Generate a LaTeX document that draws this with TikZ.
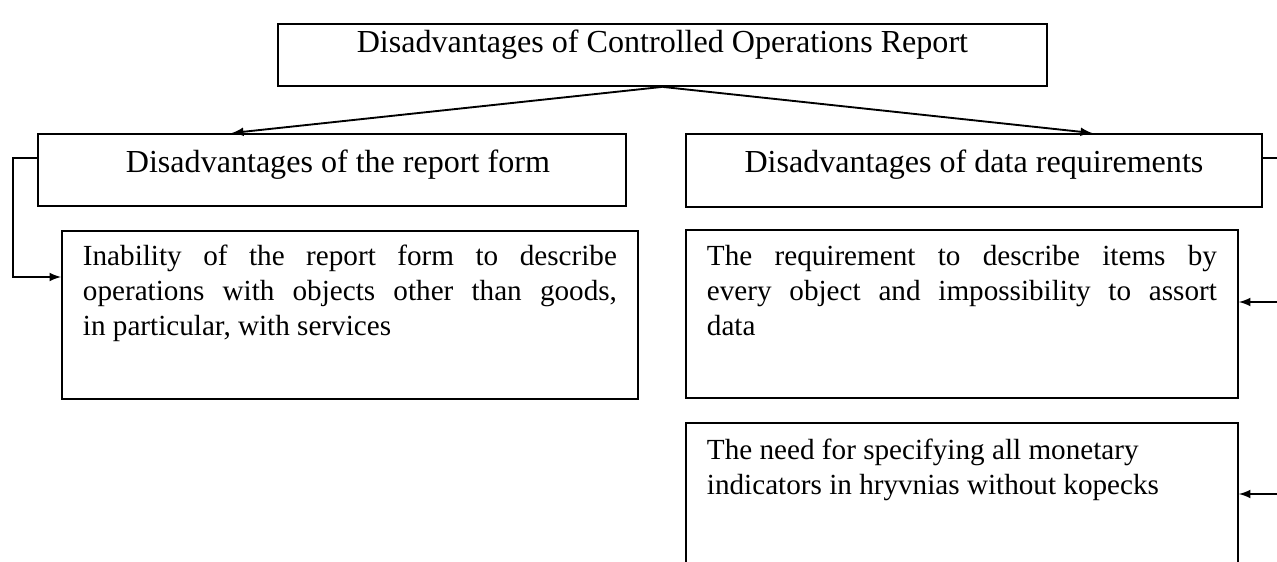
\documentclass[tikz,border=0pt]{standalone}
\usepackage{fontspec}
\setmainfont{Liberation Serif}
\usetikzlibrary{calc}
\newdimen\pxu \pxu=0.48pt
% alignment, width, height, first baseline, text
\newcommand{\boxtext}[5]{\parbox[t][#3\pxu][t]{#2\pxu}{#1\rule{0pt}{#4\pxu}#5}}
\hyphenpenalty=10000
\exhyphenpenalty=10000

\begin{document}
\begin{tikzpicture}[x=0.48pt, y=-0.48pt,
    box/.style={draw, line width=0.9pt, inner ysep=0pt, inner xsep=10.08pt, anchor=north west,
      font=\fontsize{14pt}{16.6pt}\selectfont},
    head/.style={box, font=\fontsize{15.4pt}{18pt}\selectfont},
    link/.style={line width=0.9pt, -latex}]
    \useasboundingbox (0,0) rectangle (1277,561);
    % boxes
    \node[head] (main) at (277,23) {\boxtext{\centering}{727}{62}{29}{Disadvantages of Controlled Operations Report}};
    \node[head] (form) at (37,133) {\boxtext{\centering}{546}{72}{39}{\hspace*{12\pxu}Disadvantages of the report form}};
    \node[head] (data) at (685,133) {\boxtext{\centering}{534}{73}{39}{Disadvantages of data requirements}};
    \node[box] (inab) at (61,230) {\boxtext{\relax}{534}{168}{35}{Inability of the report form to describe\linebreak operations with objects other than goods,\linebreak in particular, with services}};
    \node[box] (item) at (685,229) {\boxtext{\relax}{510}{168}{36}{The requirement to describe items by\linebreak every object and impossibility to assort\linebreak data}};
    \node[box] (kopeck) at (685,422) {\boxtext{\raggedright}{510}{168}{37}{The need for specifying all monetary\\indicators in hryvnias without kopecks}};
    % connectors
    \draw[link] (main.south) -- ($(form.north west)+(195,0)$);
    \draw[link] (main.south) -- ($(data.north west)+(407,0)$);
    \draw[link] ($(form.north west)+(0,25)$) -- ++(-24,0) |- ($(inab.north west)+(0,47)$);
    \coordinate (edge1) at (1278,158);
    \coordinate (edge2) at (1278,302);
    \coordinate (edge3) at (1278,494);
    \draw[line width=0.9pt] ($(data.north east)+(0,25)$) -- (edge1);
    \draw[link] (edge2) -- (item.east |- edge2);
    \draw[link] (edge3) -- (kopeck.east |- edge3);
\end{tikzpicture}
\end{document}
